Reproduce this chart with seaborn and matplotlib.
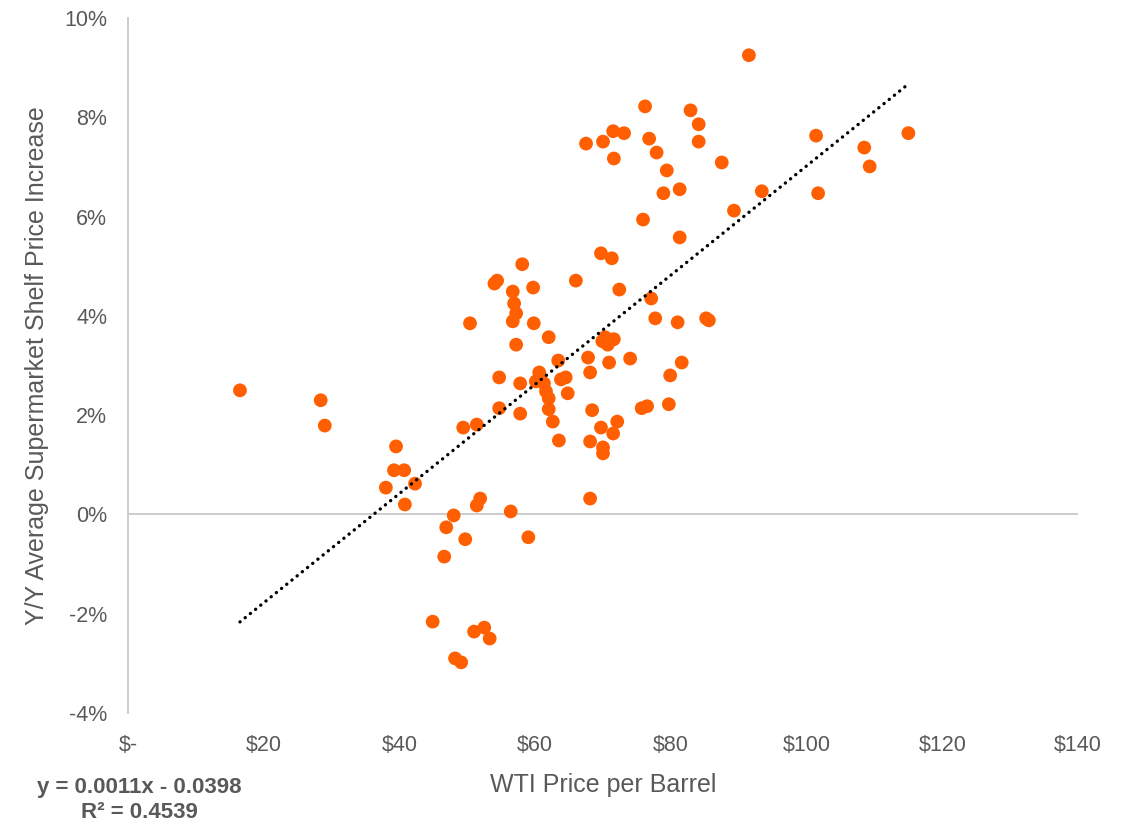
import matplotlib
matplotlib.use("Agg")
import matplotlib.pyplot as plt
import matplotlib.ticker as mticker
import numpy as np
import pandas as pd
import seaborn as sns

# WTI crude price ($/barrel) and year-over-year supermarket shelf price change (%)
wti_price = [
    16.5, 28.4, 29.0, 38.0, 39.2, 39.5, 40.7, 40.8, 42.3, 46.9,
    46.6, 48.0, 44.9, 48.2, 49.1, 49.7, 49.4, 50.4, 51.4, 51.4,
    51.9, 51.0, 52.5, 53.3, 54.7, 54.7, 54.0, 54.4, 56.4, 56.7,
    56.9, 57.2, 56.7, 57.2, 57.8, 57.8, 58.1, 59.0, 59.7, 59.8,
    60.1, 60.6, 60.7, 61.3, 61.6, 62.0, 62.0, 62.0, 62.6, 63.4,
    63.5, 63.8, 64.5, 64.8, 66.0, 67.5, 67.8, 68.1, 68.1, 68.1,
    68.4, 69.7, 69.9, 69.7, 70.0, 70.0, 70.0, 70.3, 70.7, 70.9,
    71.2, 71.3, 71.5, 71.6, 71.5, 71.6, 72.1, 72.4, 73.1, 74.0,
    75.7, 75.9, 76.2, 76.5, 76.8, 77.1, 77.7, 77.9, 78.9, 79.4,
    79.7, 79.9, 81.0, 81.3, 81.3, 81.6, 82.9, 84.1, 84.1, 85.2,
    85.6, 87.5, 89.3, 91.5, 93.4, 101.4, 101.7, 108.5, 109.3, 115.0,
]
shelf_change_pct = [
    2.50, 2.30, 1.79, 0.54, 0.89, 1.37, 0.89, 0.20, 0.62, -0.26,
    -0.85, -0.02, -2.16, -2.90, -2.98, -0.50, 1.75, 3.85, 1.81, 0.18,
    0.32, -2.36, -2.28, -2.50, 2.14, 2.76, 4.65, 4.71, 0.06, 4.49,
    4.25, 4.05, 3.89, 3.42, 2.64, 2.03, 5.04, -0.46, 4.57, 3.85,
    2.68, 2.86, 2.74, 2.64, 2.48, 2.34, 2.12, 3.57, 1.87, 3.10,
    1.49, 2.72, 2.76, 2.44, 4.71, 7.47, 3.16, 2.86, 1.47, 0.32,
    2.10, 5.26, 3.49, 1.75, 1.35, 1.23, 7.51, 3.57, 3.42, 3.06,
    3.51, 5.16, 7.72, 7.17, 1.63, 3.53, 1.87, 4.53, 7.68, 3.14,
    2.14, 5.94, 8.22, 2.18, 7.57, 4.35, 3.95, 7.29, 6.47, 6.93,
    2.22, 2.80, 3.87, 6.55, 5.58, 3.06, 8.14, 7.86, 7.51, 3.95,
    3.91, 7.09, 6.12, 9.25, 6.51, 7.63, 6.47, 7.39, 7.01, 7.68,
]

# Linear trendline coefficients (fraction vs $/barrel) and fit quality
trend_slope = 0.0011
trend_intercept = -0.0398
r_squared = 0.4539

x_ticks = [0, 20, 40, 60, 80, 100, 120, 140]
y_ticks = [-0.04, -0.02, 0.0, 0.02, 0.04, 0.06, 0.08, 0.10]

df = pd.DataFrame({
    "WTI Price per Barrel": wti_price,
    "Y/Y Change": np.array(shelf_change_pct) / 100.0,
})

sns.set_theme(style="white")
plt.rcParams["font.family"] = ["Liberation Sans", "DejaVu Sans"]

text_grey = "#595959"
axis_grey = "#C8C8C8"
dot_orange = "#FF5F00"

fig = plt.figure(figsize=(11.33, 8.24), dpi=100)
ax = fig.add_axes([128 / 1133, 1 - 713 / 824, (1078 - 128) / 1133, (713 - 18) / 824])

sns.scatterplot(
    data=df, x="WTI Price per Barrel", y="Y/Y Change", ax=ax,
    color=dot_orange, s=98, edgecolor="none", linewidth=0, zorder=3,
)

# Dotted linear trendline spanning the data range
x_fit = np.array([min(wti_price), max(wti_price)])
y_fit = trend_slope * x_fit + trend_intercept
ax.plot(x_fit, y_fit, color="black", linewidth=2.4,
        linestyle=(0, (0.05, 1.95)), dash_capstyle="round", zorder=4)

ax.set_xlim(0, 140)
ax.set_ylim(-0.04, 0.10)
ax.set_xticks(x_ticks)
ax.set_yticks(y_ticks)
ax.xaxis.set_major_formatter(mticker.FuncFormatter(lambda v, p: "$-" if v == 0 else f"${v:.0f}"))
ax.yaxis.set_major_formatter(mticker.FuncFormatter(lambda v, p: f"{v * 100:.0f}%"))
ax.tick_params(axis="both", length=0, labelsize=15.5, labelcolor=text_grey)
ax.tick_params(axis="x", pad=16)
ax.tick_params(axis="y", pad=15)

for side in ["top", "right", "bottom"]:
    ax.spines[side].set_visible(False)
ax.spines["left"].set_color(axis_grey)
ax.spines["left"].set_linewidth(1.3)
ax.axhline(0, color=axis_grey, linewidth=1.3, zorder=1)
ax.grid(False)

ax.set_xlabel("WTI Price per Barrel", fontsize=18, color=text_grey, va="center")
ax.set_ylabel("Y/Y Average Supermarket Shelf Price Increase", fontsize=18,
              color=text_grey, va="center")
ax.xaxis.set_label_coords(0.5, (713 - 785) / 695)
ax.yaxis.set_label_coords((37 - 128) / 950, 0.5)

fig.text(139 / 1133, 1 - 787 / 824, f"y = {trend_slope:.4f}x - {abs(trend_intercept):.4f}",
         ha="center", va="center", fontsize=16, fontweight="bold", color=text_grey)
fig.text(139 / 1133, 1 - 813 / 824, f"R² = {r_squared:.4f}",
         ha="center", va="center", fontsize=16, fontweight="bold", color=text_grey)

fig.savefig("out.png", dpi=100, facecolor="white")
